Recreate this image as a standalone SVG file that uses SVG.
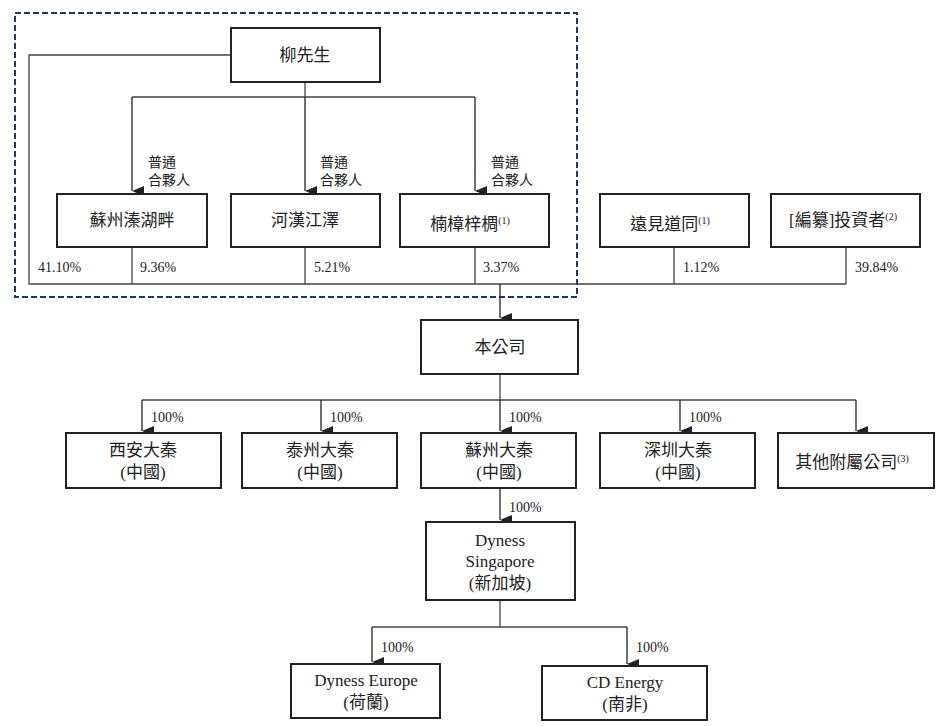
<svg xmlns="http://www.w3.org/2000/svg" width="951" height="726" viewBox="0 0 951 726">
<defs><marker id="a" markerWidth="10" markerHeight="12" refX="5" refY="12" orient="auto" markerUnits="userSpaceOnUse" viewBox="0 0 10 12"><path d="M0,0 L10,0 L5,12 Z" fill="#222"/></marker></defs>
<style>
.b{fill:#fff;stroke:#222;stroke-width:2}
.l{fill:none;stroke:#444;stroke-width:1.3}
.ar{fill:none;stroke:#222;stroke-width:1.3}
text{font-family:"Liberation Serif","Noto Sans CJK TC",serif;font-size:17px;fill:#222;text-anchor:middle}
.p{font-size:14px;text-anchor:start}
.s{font-size:10px}
</style>
<rect x="15" y="13" width="562" height="284" fill="none" stroke="#1f3864" stroke-width="2" stroke-dasharray="6,3"/>
<g id="connectors">
<path class="l" d="M231,55 H29 V284 H846 M132,247 V284 M305,247 V284 M475,247 V284 M674,247 V284 M846,247 V284"/>
<path class="l" d="M132,97 H475 M305,82 V97"/>
<path class="ar" d="M132,97 V191" marker-end="url(#a)"/>
<path class="ar" d="M305,97 V191" marker-end="url(#a)"/>
<path class="ar" d="M475,97 V191" marker-end="url(#a)"/>
<path class="ar" d="M500,284 V318" marker-end="url(#a)"/>
<path class="l" d="M500,374 V400 M142,400 H856"/>
<path class="ar" d="M142,400 V431" marker-end="url(#a)"/>
<path class="ar" d="M321,400 V431" marker-end="url(#a)"/>
<path class="ar" d="M500,400 V431" marker-end="url(#a)"/>
<path class="ar" d="M680,400 V431" marker-end="url(#a)"/>
<path class="ar" d="M856,400 V431" marker-end="url(#a)"/>
<path class="ar" d="M500,488 V520" marker-end="url(#a)"/>
<path class="l" d="M500,600 V627 M372,627 H627"/>
<path class="ar" d="M372,627 V662" marker-end="url(#a)"/>
<path class="ar" d="M627,627 V664" marker-end="url(#a)"/>
<text x="148" y="167" class="p" style="font-size:14px">普通</text><text x="148" y="185" class="p">合夥人</text>
<text x="320" y="167" class="p">普通</text><text x="320" y="185" class="p">合夥人</text>
<text x="491" y="167" class="p">普通</text><text x="491" y="185" class="p">合夥人</text>
<text x="38" y="272" class="p">41.10%</text>
<text x="140" y="272" class="p">9.36%</text>
<text x="314" y="272" class="p">5.21%</text>
<text x="483" y="272" class="p">3.37%</text>
<text x="683" y="272" class="p">1.12%</text>
<text x="855" y="272" class="p">39.84%</text>
<text x="151" y="422" class="p">100%</text>
<text x="330" y="422" class="p">100%</text>
<text x="509" y="422" class="p">100%</text>
<text x="689" y="422" class="p">100%</text>
<text x="509" y="512" class="p">100%</text>
<text x="381" y="652" class="p">100%</text>
<text x="636" y="652" class="p">100%</text>
</g>
<g id="n1"><rect class="b" x="231" y="28" width="149" height="54"/><text x="305" y="61">柳先生</text></g>
<g id="n2"><rect class="b" x="57" y="194" width="150" height="53"/><text x="132" y="226">蘇州溱湖畔</text></g>
<g id="n3"><rect class="b" x="231" y="194" width="149" height="53"/><text x="305" y="226">河漢江澤</text></g>
<g id="n4"><rect class="b" x="400" y="194" width="149" height="53"/><text x="470" y="230">楠樟梓椆<tspan class="s" dy="-6">(1)</tspan></text></g>
<g id="n5"><rect class="b" x="600" y="194" width="149" height="53"/><text x="670" y="230">遠見道同<tspan class="s" dy="-6">(1)</tspan></text></g>
<g id="n6"><rect class="b" x="771" y="194" width="149" height="53"/><text x="843" y="226">[編纂]投資者<tspan class="s" dy="-6">(2)</tspan></text></g>
<g id="n7"><rect class="b" x="421" y="320" width="157" height="54"/><text x="500" y="353">本公司</text></g>
<g id="n8"><rect class="b" x="66" y="433" width="155" height="55"/><text x="143" y="456">西安大秦</text><text x="143" y="478">(中國)</text></g>
<g id="n9"><rect class="b" x="242" y="433" width="155" height="55"/><text x="320" y="456">泰州大秦</text><text x="320" y="478">(中國)</text></g>
<g id="n10"><rect class="b" x="421" y="433" width="155" height="55"/><text x="499" y="456">蘇州大秦</text><text x="499" y="478">(中國)</text></g>
<g id="n11"><rect class="b" x="600" y="433" width="155" height="55"/><text x="678" y="456">深圳大秦</text><text x="678" y="478">(中國)</text></g>
<g id="n12"><rect class="b" x="778" y="433" width="156" height="55"/><text x="852" y="468">其他附屬公司<tspan class="s" dy="-6">(3)</tspan></text></g>
<g id="n13"><rect class="b" x="426" y="522" width="149" height="78"/><text x="500" y="546">Dyness</text><text x="500" y="567">Singapore</text><text x="500" y="589">(新加坡)</text></g>
<g id="n14"><rect class="b" x="291" y="664" width="149" height="54"/><text x="366" y="686">Dyness Europe</text><text x="366" y="708">(荷蘭)</text></g>
<g id="n15"><rect class="b" x="542" y="666" width="165" height="54"/><text x="625" y="688">CD Energy</text><text x="625" y="710">(南非)</text></g>
</svg>
